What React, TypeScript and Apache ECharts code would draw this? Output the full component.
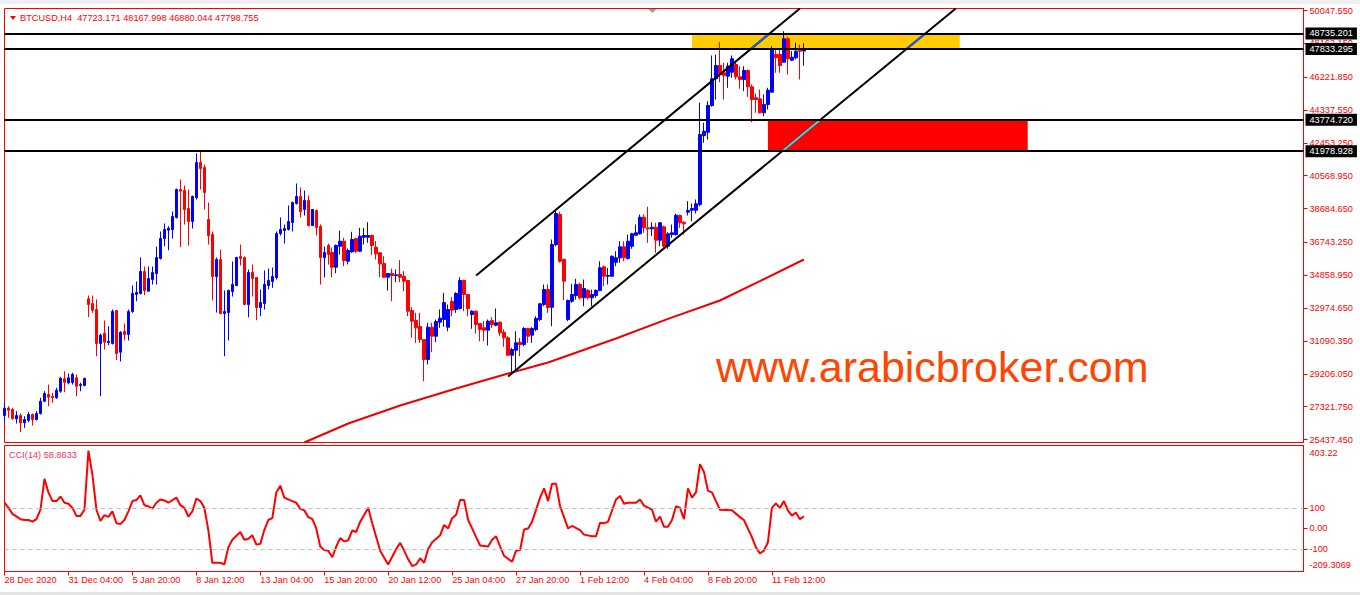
import { useEffect, useRef } from 'react';
import * as echarts from 'echarts';

const FONT = '"Liberation Sans", Arial, sans-serif';
const RED = '#ff0000';
const FS = 9.2;

const symbolTitle = 'BTCUSD,H4  47723.171 48167.998 46880.044 47798.755';
const cciTitle = 'CCI(14) 58.8633';
const watermark = 'www.arabicbroker.com';

const timeLabels = ['28 Dec 2020', '31 Dec 04:00', '5 Jan 20:00', '8 Jan 12:00', '13 Jan 04:00', '15 Jan 20:00', '20 Jan 12:00', '25 Jan 04:00', '27 Jan 20:00', '1 Feb 12:00', '4 Feb 04:00', '8 Feb 20:00', '11 Feb 12:00'];
const LABEL_STEP = 16;
const SLOT_COUNT = 326;

const priceTicks = [50047.55, 48162.15, 46221.85, 44337.55, 42453.25, 40568.95, 38684.65, 36743.25, 34858.95, 32974.65, 31090.35, 29206.05, 27321.75, 25437.45];
const levelPrices = [48735.201, 47833.295, 43774.72, 41978.928];

// [fromBar, toBar, top, bottom]
const yellowZone = [172, 239, 48735.201, 47833.295];
const redZone = [191, 256, 43774.72, 41978.928];

// [bar, price]
const upperChannel = [[118, 34846], [199, 50162]];
const lowerChannel = [[126, 29052], [238, 50162]];

// [open, close, low, high]
const ohlc = [
  [26813, 27232, 26486, 27559], [27232, 27117, 26681, 27347], [27157, 26624, 26584, 27255], [26624, 26813, 26354, 27060], [26813, 26394, 25855, 26928],
  [26394, 26584, 26107, 26773], [26543, 26870, 26428, 27025], [26870, 26584, 26239, 26928], [26584, 26928, 26526, 27060], [26928, 27633, 26870, 27829],
  [27633, 28075, 27576, 28207], [28018, 27863, 27347, 28592], [27920, 27846, 27542, 28115], [27829, 28265, 27771, 28402], [28207, 28953, 28115, 29033],
  [28919, 28724, 28150, 29345], [28689, 28976, 28592, 29222], [28706, 29165, 28592, 29263], [28976, 28494, 27920, 29165], [28534, 28592, 28207, 28706],
  [28534, 28936, 28494, 28993], [33508, 33181, 32452, 33697], [33238, 32854, 32705, 33697], [32894, 30944, 30215, 33468], [30944, 31421, 27920, 31517],
  [31535, 31018, 30600, 32263], [31001, 31076, 30846, 31936], [30944, 32780, 30886, 32894], [32837, 30370, 29986, 32866], [30445, 31592, 29911, 31649],
  [31632, 31460, 31116, 32091], [31460, 32780, 31116, 32894], [32780, 33812, 32705, 34271], [33755, 33870, 33370, 34501], [33812, 35074, 33755, 35878],
  [35074, 33984, 33715, 35361], [33944, 34673, 33944, 35361], [34615, 35017, 34329, 35361], [34960, 35878, 34329, 36509], [35820, 36968, 35763, 37369],
  [36968, 37484, 36526, 37828], [37444, 37559, 36296, 37673], [37484, 38230, 36968, 38517], [38172, 39779, 38115, 39836], [39779, 39681, 36468, 40352],
  [39721, 38631, 37771, 40008], [38689, 37943, 36566, 39779], [37943, 39377, 37541, 39434], [39320, 41328, 39205, 41844], [41328, 40983, 39779, 41976],
  [41041, 39607, 38631, 41213], [38058, 37140, 36623, 39033], [37197, 34788, 33411, 37369], [34788, 35763, 32722, 35878], [35763, 32665, 32620, 36336],
  [32665, 32780, 30215, 33984], [32722, 33984, 31116, 34042], [33927, 34329, 33640, 35648], [34271, 35878, 34231, 35918], [35935, 35820, 35419, 36623],
  [35878, 33181, 33140, 35935], [33181, 35017, 32452, 35189], [35017, 34673, 33640, 35476], [34730, 33009, 32280, 34760], [33009, 33296, 32510, 34042],
  [33239, 34329, 32894, 35132], [34271, 34558, 34042, 35246], [34501, 34788, 34139, 35304], [34730, 37254, 34615, 37369], [37254, 37484, 37140, 38172],
  [37427, 37541, 36681, 37771], [37484, 37943, 37427, 38861], [37885, 39033, 37369, 39090], [38976, 39377, 38918, 40123], [39377, 38517, 38172, 39893],
  [38631, 39148, 38287, 39721], [39148, 37713, 37656, 39434], [37713, 38631, 37673, 38661], [38574, 37599, 37140, 38631], [37656, 35878, 34329, 37771],
  [35878, 36164, 34730, 36509], [36566, 36050, 35476, 36681], [36164, 35321, 34748, 36451], [35321, 36566, 34977, 36623], [36526, 36813, 36050, 37427],
  [36813, 35706, 35378, 37008], [35665, 36279, 35476, 36394], [36204, 36910, 36147, 37352], [36968, 36239, 36147, 37008], [36239, 37100, 36204, 37581],
  [37042, 37140, 36623, 37581], [37042, 37140, 36721, 37903], [37140, 36566, 36010, 37197], [36469, 36090, 35763, 36813], [36147, 35516, 34748, 36193],
  [35533, 34748, 34701, 35952], [34748, 34960, 33984, 34989], [34960, 34845, 33370, 35246], [34845, 34885, 34461, 35189], [34902, 34748, 34461, 35723],
  [34805, 34518, 33944, 35092], [34558, 32797, 32510, 34587], [32837, 32223, 31271, 33026], [32263, 31845, 30984, 32705], [31919, 31173, 30984, 32705],
  [31173, 30026, 28781, 31202], [30026, 31879, 29739, 32131], [31879, 31363, 30445, 32131], [31363, 32206, 31018, 32321], [32166, 32395, 31845, 32894],
  [32321, 33296, 31902, 33852], [31879, 32894, 31649, 33181], [33353, 32854, 32510, 33600], [32894, 33812, 32705, 33887], [32952, 34558, 32894, 34748],
  [34558, 33755, 32797, 34615], [33755, 32952, 32510, 33784], [32607, 32797, 31787, 32854], [32797, 32034, 31517, 32837], [32091, 31747, 31076, 32120],
  [31845, 31707, 31076, 32223], [31707, 32223, 30829, 32321], [32263, 32034, 31845, 32452], [31994, 32131, 31936, 32952], [32166, 31558, 31363, 32223],
  [31592, 31271, 30755, 31747], [31271, 30273, 30226, 31363], [30273, 30600, 29223, 30697], [30560, 30984, 29452, 31649], [31018, 30886, 30215, 31271],
  [30886, 31805, 30789, 31879], [31805, 31363, 30984, 31845], [31421, 31805, 30984, 31879], [31747, 32378, 31649, 32510], [32321, 33221, 32223, 33279],
  [33181, 34042, 33084, 34329], [34042, 33009, 32705, 34329], [33026, 36623, 31936, 36910], [36623, 38402, 36526, 38591], [38345, 35665, 35574, 38500],
  [35763, 34518, 33428, 35820], [32321, 33411, 32223, 33468], [33370, 33755, 33279, 34369], [33698, 34329, 33468, 34656], [34329, 33566, 33468, 34431],
  [33566, 34099, 33084, 34615], [34002, 33566, 33468, 34059], [33566, 33755, 33084, 34042], [33698, 33984, 33566, 34059], [33984, 35286, 33944, 35665],
  [35344, 34805, 34231, 35419], [34805, 34845, 34329, 35286], [34805, 35952, 34768, 35992], [35608, 35860, 35378, 36239], [35860, 36491, 35574, 36813],
  [36491, 35860, 35665, 36813], [35820, 36813, 35763, 37197], [36526, 37237, 36377, 37295], [37157, 37295, 37100, 37771], [37237, 38190, 37197, 38345],
  [38190, 37581, 37295, 38345], [37581, 37524, 36721, 38786], [37524, 37616, 37100, 37903], [37616, 36870, 36147, 37869], [36870, 37869, 36526, 37903],
  [37639, 36526, 36434, 37713], [36526, 37237, 36377, 37329], [37197, 37295, 37008, 37771], [37197, 38304, 37140, 38385], [38287, 37869, 37581, 38345],
  [37903, 37811, 37197, 37960], [38477, 38574, 38287, 39108], [38591, 38689, 37960, 38976], [38591, 38958, 38402, 39205], [38918, 42934, 38821, 44770],
  [42877, 43123, 42458, 43605], [43066, 44598, 42647, 44845], [44598, 46130, 44523, 47466], [46130, 46893, 44942, 47524], [46893, 46376, 45935, 48229],
  [46474, 46319, 44942, 47048], [46279, 46852, 45613, 47048], [46508, 47277, 46187, 47466], [46950, 46244, 46089, 47082], [46244, 46089, 45556, 46852],
  [46089, 46606, 45418, 46852], [46606, 45671, 45097, 46663], [45671, 44942, 43640, 45803], [45040, 44942, 44179, 45286], [44982, 44179, 44139, 45516],
  [44179, 44655, 43984, 45229], [44655, 45476, 44368, 45613], [45361, 47810, 45326, 48000], [47524, 47334, 46474, 47810], [47524, 46893, 46474, 47810],
  [47082, 48424, 47048, 48860], [48424, 47277, 46376, 48539], [47197, 47369, 47139, 47713], [47334, 47713, 47237, 48195], [47810, 47713, 46089, 48097],
  [47723.171, 47798.755, 46880.044, 48167.998],
];

// moving average readings: [bar, value]
const maPoints = [[75, 25264], [86, 26354], [99, 27387], [113, 28362], [126, 29223], [136, 29854], [153, 31231], [166, 32355], [179, 33411], [189, 34518], [200, 35764]];

const cciValues = [
  125, 100, 71, null, 45, 41, 41, 33, 45, 91,
  241, 175, 133, 133, 155, 125, 120, 100, 61, 61,
  91, 378, 260, 91, 36, 65, 56, 83, 25, 21,
  41, 83, 133, 138, 161, 113, 108, 96, 125, 141,
  136, 125, null, 150, 113, 100, 58, 83, 145, 133,
  100, -8, -167, -167, -167, -175, -92, -55, null, -17,
  -55, -50, -33, -78, -75, -8, 41, 50, 175, 208,
  150, 141, 133, 125, 95, 88, 55, 46, 0, -88,
  -105, -108, -140, -88, -47, -63, -57, -10, -17, 33,
  null, 100, 25, null, -108, -142, -175, null, -100, -70,
  -108, -150, -183, -175, -145, -167, -100, -67, null, -33,
  17, 0, 50, 67, 138, 138, 41, 0, -42, -83,
  null, -88, -55, -38, -88, -133, null, -162, -108, -105,
  -5, 0, 33, null, 150, 195, 133, 217, 217, 108,
  null, 0, 12, null, -8, -30, null, -38, -38, 28,
  25, 33, null, 141, 158, 120, 125, 125, 125, 141,
  111, null, 91, 33, 58, 8, 8, 41, 108, 100,
  45, 195, 150, 175, 312, 275, 183, 175, 133, 91,
  null, null, 88, null, 55, 41, null, -42, -92, -122,
  -108, -67, 100, 122, 100, 133, 88, 62, 78, 45,
  58.8633,
];
const cciTicks = [403.22, 100, 0, -100, -209.3069];
const cciTickLabels = ['403.22', '100', '0.00', '-100', '-209.3069'];
const cciLevels = [100, -100];

function barAtPrice(line: number[][], p: number) {
  const [[i1, p1], [i2, p2]] = line;
  return i1 + ((p - p1) / (p2 - p1)) * (i2 - i1);
}
function segment(line: number[][], lo: number, hi: number) {
  return [[barAtPrice(line, lo), lo], [barAtPrice(line, hi), hi]];
}

export default function App() {
  const ref = useRef<HTMLDivElement>(null);
  useEffect(() => {
    const chart = echarts.init(ref.current!, null, { renderer: 'svg' });
    const slots = Array.from({ length: SLOT_COUNT }, (_, i) =>
      i % LABEL_STEP === 0 && i / LABEL_STEP < timeLabels.length ? timeLabels[i / LABEL_STEP] : '');
    const showSlot = (i: number) => i % LABEL_STEP === 0 && i / LABEL_STEP < timeLabels.length;
    const maData: (number | null)[] = ohlc.map(() => null);
    maPoints.forEach(([i, v]) => { maData[i] = v; });

    const lineBase = { type: 'line', symbol: 'none', showSymbol: false, silent: true, animation: false };
    const option: any = {
      animation: false,
      backgroundColor: '#ffffff',
      grid: [
        { left: 4.5, right: 56.5, top: 8.5, height: 434, show: true, borderColor: RED, borderWidth: 1 },
        { left: 4.5, right: 56.5, top: 445.5, height: 126, show: true, borderColor: RED, borderWidth: 1 },
      ],
      xAxis: [
        { type: 'category', gridIndex: 0, data: slots, boundaryGap: false, show: false },
        {
          type: 'category', gridIndex: 1, data: slots, boundaryGap: false,
          axisLine: { show: true, onZero: false, lineStyle: { color: RED, width: 1 } },
          axisTick: { show: true, interval: (i: number) => showSlot(i), length: 4, lineStyle: { color: RED } },
          axisLabel: { interval: (i: number) => showSlot(i), showMinLabel: true, align: 'left', color: RED, fontSize: FS, fontFamily: FONT, margin: 4 },
          splitLine: { show: false },
        },
        { type: 'value', gridIndex: 0, min: 0, max: SLOT_COUNT - 1, show: false },
      ],
      yAxis: [
        {
          type: 'value', gridIndex: 0, position: 'right', min: 25265.5, max: 50162.3,
          axisLine: { show: true, onZero: false, lineStyle: { color: RED, width: 1 } },
          axisTick: { show: true, inside: false, customValues: priceTicks, length: 4, lineStyle: { color: RED } },
          axisLabel: { customValues: priceTicks, formatter: (v: number) => v.toFixed(3), color: RED, fontSize: FS, fontFamily: FONT, margin: 6 },
          splitLine: { show: false },
        },
        {
          type: 'value', gridIndex: 1, position: 'right', min: -209.3069, max: 403.22,
          axisLine: { show: true, onZero: false, lineStyle: { color: RED, width: 1 } },
          axisTick: { show: true, inside: false, customValues: [100, 0, -100], length: 4, lineStyle: { color: RED } },
          axisLabel: {
            customValues: cciTicks, color: RED, fontSize: FS, fontFamily: FONT, margin: 6,
            formatter: (v: number) => {
              let k = 0;
              cciTicks.forEach((t, j) => { if (Math.abs(t - v) < Math.abs(cciTicks[k] - v)) k = j; });
              if (k === 0) return '{top|' + cciTickLabels[k] + '}';
              if (k === cciTicks.length - 1) return '{bot|' + cciTickLabels[k] + '}';
              return cciTickLabels[k];
            },
            rich: {
              top: { padding: [15, 0, 0, 0], color: RED, fontSize: FS, fontFamily: FONT },
              bot: { padding: [0, 0, 13, 0], color: RED, fontSize: FS, fontFamily: FONT },
            },
          },
          splitLine: { show: false },
        },
      ],
      series: [
        {
          ...lineBase, xAxisIndex: 2, yAxisIndex: 0, z: 1,
          data: [[yellowZone[0], yellowZone[3]], [redZone[0], redZone[3]]],
          lineStyle: { opacity: 0, width: 0 },
          markArea: {
            silent: true,
            data: [
              [{ coord: [yellowZone[0], yellowZone[2]], itemStyle: { color: '#ffcc00', opacity: 1 } }, { coord: [yellowZone[1], yellowZone[3]] }],
              [{ coord: [redZone[0], redZone[2]], itemStyle: { color: RED, opacity: 1 } }, { coord: [redZone[1], redZone[3]] }],
            ],
          },
        },
        {
          type: 'candlestick', xAxisIndex: 0, yAxisIndex: 0, data: ohlc, barWidth: 3, z: 2, silent: true,
          itemStyle: { color: '#0000ff', color0: RED, borderColor: '#0000ff', borderColor0: RED, borderWidth: 1 },
        },
        {
          ...lineBase, xAxisIndex: 0, yAxisIndex: 0, data: maData, connectNulls: true, z: 3,
          lineStyle: { color: '#ee0000', width: 2 },
        },
        {
          ...lineBase, xAxisIndex: 2, yAxisIndex: 0, data: upperChannel, z: 3,
          lineStyle: { color: '#000000', width: 2 },
          markLine: {
            silent: true, symbol: ['none', 'none'], z: 5,
            lineStyle: { color: '#000000', width: 2, type: 'solid' },
            label: {
              show: true, position: 'end', distance: 2,
              formatter: (p: any) => levelPrices[p.dataIndex].toFixed(3),
              color: '#ffffff', backgroundColor: '#000000', padding: [2, 4, 1, 4], fontSize: FS, fontFamily: FONT,
            },
            data: levelPrices.map((v) => ({ yAxis: v })),
          },
        },
        {
          ...lineBase, xAxisIndex: 2, yAxisIndex: 0, data: lowerChannel, z: 3,
          lineStyle: { color: '#000000', width: 2 },
        },
        {
          ...lineBase, xAxisIndex: 2, yAxisIndex: 0, z: 4,
          data: segment(upperChannel, yellowZone[3], yellowZone[2]),
          lineStyle: { color: '#2a55ee', width: 2 },
        },
        {
          ...lineBase, xAxisIndex: 2, yAxisIndex: 0, z: 4,
          data: segment(lowerChannel, yellowZone[3], yellowZone[2]),
          lineStyle: { color: '#2a55ee', width: 2 },
        },
        {
          ...lineBase, xAxisIndex: 2, yAxisIndex: 0, z: 4,
          data: segment(lowerChannel, redZone[3], redZone[2]),
          lineStyle: { color: '#22e8f0', width: 2 },
        },
        {
          ...lineBase, xAxisIndex: 1, yAxisIndex: 1, data: cciValues, connectNulls: true, z: 3,
          lineStyle: { color: RED, width: 2 },
          markLine: {
            silent: true, symbol: ['none', 'none'], label: { show: false },
            lineStyle: { color: '#c0c0c0', width: 1, type: [4, 4] },
            data: cciLevels.map((v) => ({ yAxis: v })),
          },
        },
      ],
      graphic: [
        { type: 'rect', shape: { x: 0, y: 0, width: 1360, height: 4 }, style: { fill: '#f0f0f0' }, silent: true },
        { type: 'rect', shape: { x: 0, y: 592, width: 1360, height: 3 }, style: { fill: '#e4e4e4' }, silent: true },
        { type: 'polygon', shape: { points: [[10, 16], [16, 16], [13, 20]] }, style: { fill: RED }, silent: true },
        { type: 'polygon', shape: { points: [[648, 9], [657, 9], [652.5, 13]] }, style: { fill: '#a0a0a0' }, silent: true },
        { type: 'text', x: 20, y: 17.5, style: { text: symbolTitle, fill: RED, fontSize: FS, fontFamily: FONT, verticalAlign: 'middle' }, silent: true },
        { type: 'text', x: 9, y: 455, style: { text: cciTitle, fill: '#ff3355', fontSize: FS, fontFamily: FONT, verticalAlign: 'middle' }, silent: true },
        { type: 'text', x: 716, y: 367, style: { text: watermark, fill: '#ff4500', fontSize: 43, fontFamily: FONT, verticalAlign: 'middle' }, silent: true },
      ],
    };
    chart.setOption(option);
    return () => chart.dispose();
  }, []);
  return <div ref={ref} style={{ position: 'fixed', left: 0, top: 0, width: 1360, height: 595, background: '#ffffff' }} />;
}
